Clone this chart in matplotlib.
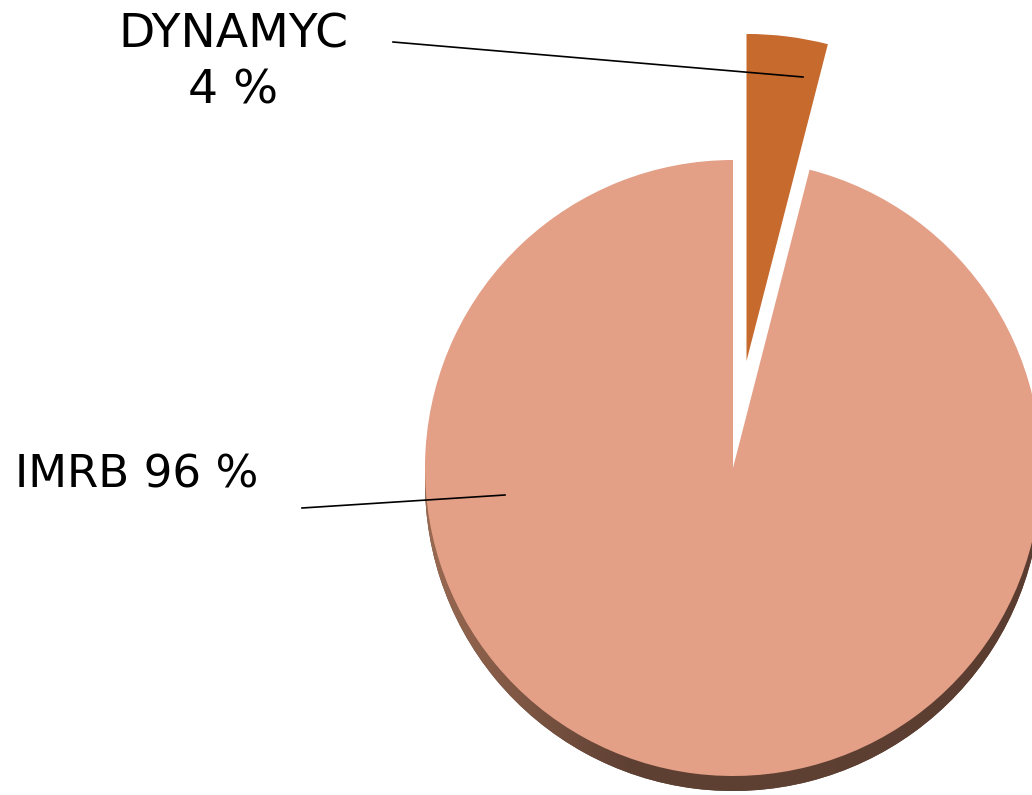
import matplotlib.pyplot as plt
import numpy as np
from matplotlib.colors import LinearSegmentedColormap

# данные
labels = ['DYNAMYC', 'IMRB']
values = [4, 96]
colors = ['#C66A2E', '#E49F87']
shadow_color = '#5E4033'

W, H = 1032, 795
fig = plt.figure(figsize=(W / 100, H / 100), dpi=100)
ax = fig.add_axes([0, 0, 1, 1])

R = 308
cx, cy = 733, H - 468

# тень снизу (эффект объёма)
sh_wedges, _ = ax.pie(values, colors=['none', shadow_color], startangle=90, counterclock=False,
                      radius=R, center=(cx, cy - 15), frame=True)
sh_wedges[0].set_visible(False)
grad = np.linspace(0, 1, 256).reshape(1, -1)
cmap = LinearSegmentedColormap.from_list('sh', ['#9A6A52', '#5E4033', '#5E4033', '#5A3D30'])
im = ax.imshow(grad, extent=(cx - R, cx + R, cy - R - 20, cy), cmap=cmap, aspect='auto', zorder=1)
im.set_clip_path(sh_wedges[1])
sh_wedges[1].set_zorder(0.5)

# explode в matplotlib задаётся в единицах данных
wedges, _ = ax.pie(values, colors=colors, startangle=90, counterclock=False,
                   explode=[0.35 * R, 0], radius=R, center=(cx, cy), frame=True)
for w in wedges:
    w.set_zorder(2)
wedges[0].set_radius(R * 1.062)

# подписи
fs = 34
ax.text(233, H - 48, 'DYNAMYC', ha='center', va='baseline', fontsize=fs, color='black')
ax.text(233, H - 104, '4 %', ha='center', va='baseline', fontsize=fs, color='black')
ax.text(15, H - 488, 'IMRB 96 %', ha='left', va='baseline', fontsize=fs - 1.5, color='black')

# линии-выноски
ax.plot([393, 803], [H - 42, H - 77], color='black', lw=1.2, zorder=3)
ax.plot([302, 505], [H - 508, H - 495], color='black', lw=1.2, zorder=3)

ax.set_xlim(0, W)
ax.set_ylim(0, H)
ax.set_aspect('auto')
ax.axis('off')

plt.savefig('out.png', dpi=100, facecolor='white')
